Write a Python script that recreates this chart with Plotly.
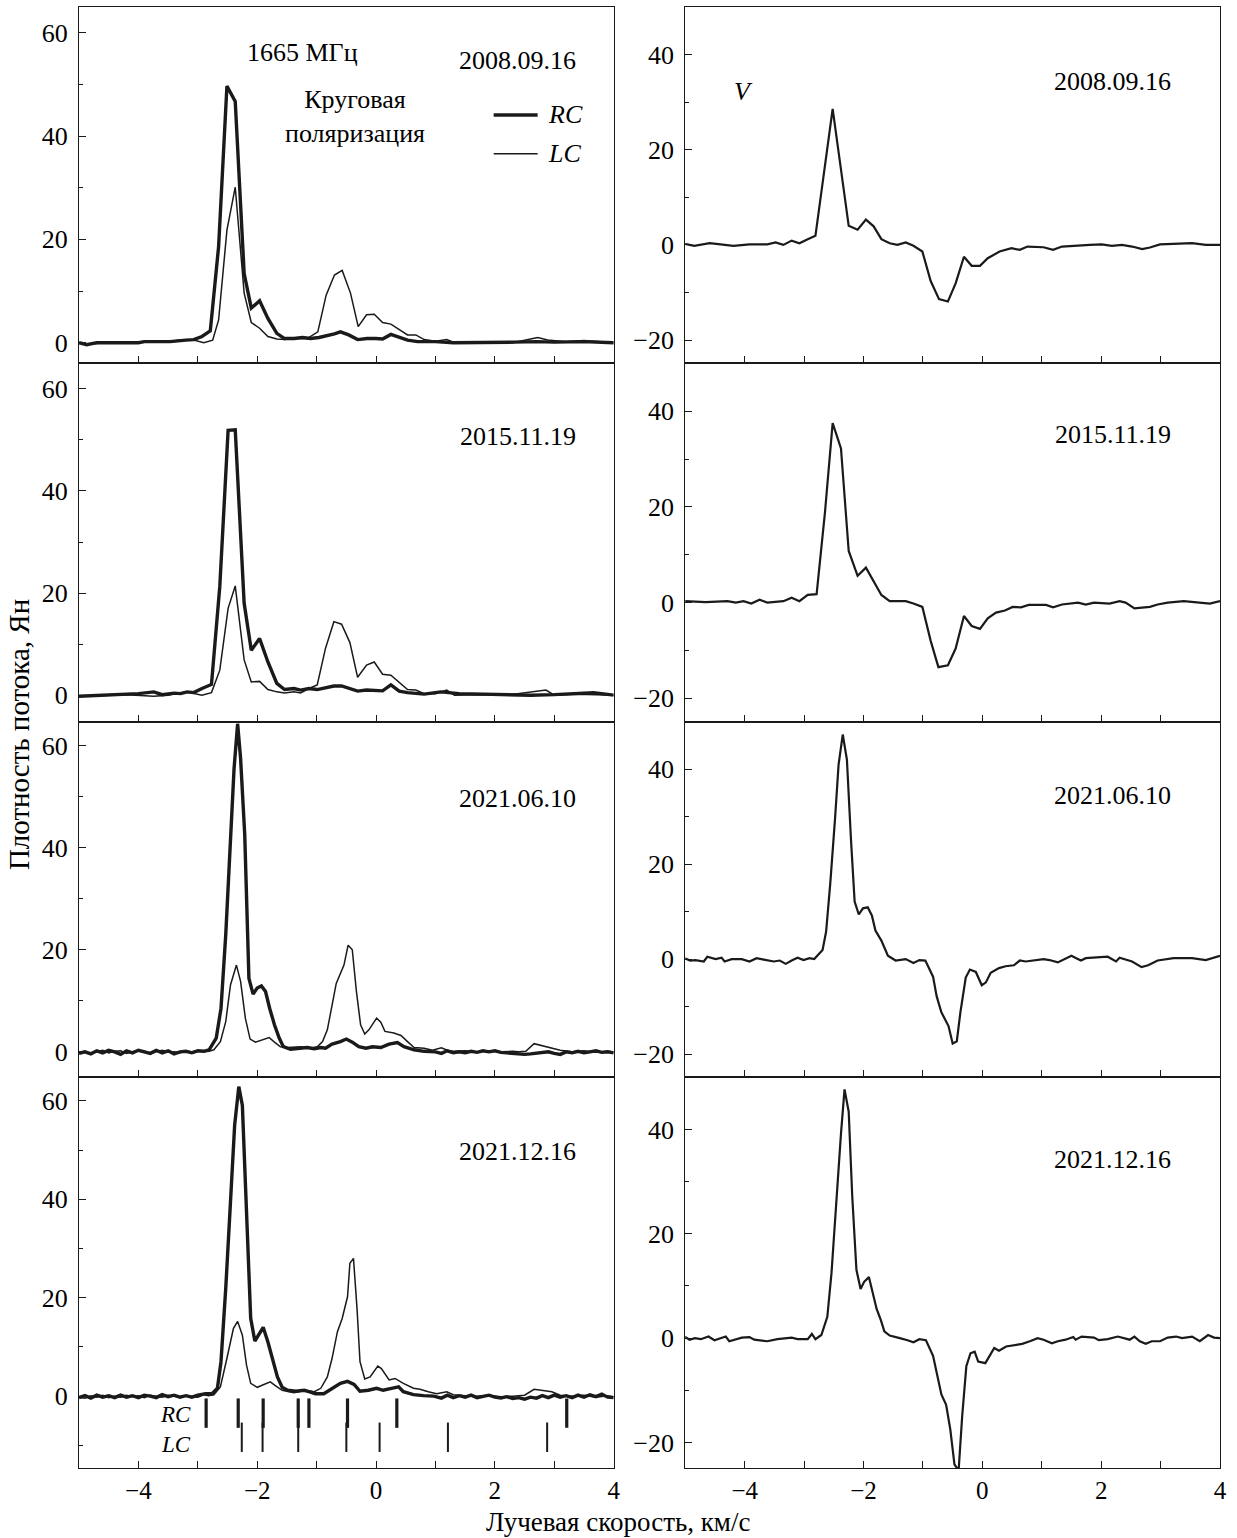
import plotly.graph_objects as go

FONT = "Liberation Serif, Times New Roman, serif"

# ---------------- data (velocity km/s, flux Jy) ----------------
dates = ["2008.09.16", "2015.11.19", "2021.06.10", "2021.12.16"]

rc_2008 = [(-5.0, 0.0), (-4.87, -0.4), (-4.7, 0.0), (-4.4, 0.0), (-4.0, 0.0), (-3.9, 0.2), (-3.6, 0.1), (-3.47, 0.2),
           (-3.2, 0.5), (-3.07, 0.6), (-2.93, 1.2), (-2.79, 2.3), (-2.65, 18.6), (-2.51, 49.7), (-2.37, 46.7),
           (-2.22, 13.4), (-2.10, 6.7), (-1.96, 8.1), (-1.82, 4.7), (-1.67, 1.8), (-1.54, 0.8), (-1.38, 0.8),
           (-1.24, 1.0), (-1.10, 0.8), (-0.96, 1.0), (-0.82, 1.3), (-0.70, 1.7), (-0.60, 2.1), (-0.46, 1.5),
           (-0.31, 0.6), (-0.15, 0.8), (-0.01, 0.8), (0.11, 0.7), (0.25, 1.6), (0.39, 1.0), (0.53, 0.5),
           (0.70, 0.2), (1.0, 0.2), (1.3, 0.0), (1.66, 0.0), (2.0, 0.1), (2.32, 0.1), (2.7, 0.2), (3.0, 0.1),
           (3.5, 0.2), (4.0, 0.0)]
lc_2008 = [(-5.0, 0.0), (-4.87, -0.4), (-4.6, 0.0), (-4.2, 0.1), (-3.8, 0.1), (-3.5, 0.2), (-3.3, 0.5), (-3.07, 0.5),
           (-2.9, 0.0), (-2.75, 0.5), (-2.65, 4.4), (-2.51, 21.8), (-2.37, 30.1), (-2.22, 9.6), (-2.10, 3.9),
           (-1.96, 2.8), (-1.82, 1.2), (-1.67, 0.7), (-1.54, 0.6), (-1.38, 0.8), (-1.16, 0.8), (-0.98, 2.1),
           (-0.84, 9.2), (-0.70, 13.1), (-0.57, 14.0), (-0.43, 9.6), (-0.30, 3.1), (-0.16, 5.4), (-0.03, 5.5),
           (0.11, 3.9), (0.25, 3.6), (0.39, 2.5), (0.53, 1.5), (0.67, 1.5), (0.81, 0.6), (1.0, 0.3), (1.19, 0.6),
           (1.32, 0.0), (1.6, 0.1), (2.0, 0.1), (2.3, 0.0), (2.52, 0.5), (2.72, 1.0), (2.89, 0.5), (3.2, 0.2),
           (3.5, 0.4), (4.0, 0.0)]

rc_2015 = [(-5.0, -0.2), (-4.7, 0.0), (-4.4, 0.1), (-4.0, 0.3), (-3.74, 0.65), (-3.6, 0.1), (-3.4, 0.4), (-3.29, 0.3),
           (-3.18, 0.65), (-3.07, 0.5), (-2.93, 1.3), (-2.77, 2.1), (-2.63, 21.3), (-2.49, 51.9), (-2.37, 52.0),
           (-2.22, 18.0), (-2.10, 8.8), (-1.96, 11.1), (-1.82, 6.5), (-1.67, 2.3), (-1.54, 1.1), (-1.38, 1.3),
           (-1.27, 1.0), (-1.13, 1.3), (-0.99, 1.1), (-0.85, 1.4), (-0.71, 1.8), (-0.58, 1.8), (-0.44, 1.3),
           (-0.31, 0.8), (-0.16, 1.0), (-0.03, 1.0), (0.11, 0.85), (0.25, 2.0), (0.39, 0.8), (0.53, 0.5),
           (0.67, 0.3), (0.81, 0.2), (1.09, 0.65), (1.4, 0.3), (1.8, 0.2), (2.2, 0.1), (2.6, 0.0), (3.0, 0.1),
           (3.39, 0.3), (3.66, 0.5), (4.0, 0.0)]
lc_2015 = [(-5.0, -0.2), (-4.6, 0.0), (-4.2, 0.1), (-3.74, -0.2), (-3.5, 0.0), (-3.2, 0.65), (-2.93, 0.0),
           (-2.77, 0.5), (-2.63, 4.9), (-2.49, 17.0), (-2.37, 21.4), (-2.22, 6.9), (-2.10, 2.6), (-1.96, 2.7),
           (-1.82, 1.1), (-1.67, 0.65), (-1.54, 0.45), (-1.38, 0.65), (-1.27, 0.45), (-1.13, 1.3), (-0.99, 2.0),
           (-0.85, 9.2), (-0.71, 14.4), (-0.58, 13.9), (-0.44, 10.3), (-0.31, 3.5), (-0.16, 5.9), (-0.03, 6.5),
           (0.11, 4.1), (0.25, 3.9), (0.39, 2.4), (0.53, 1.1), (0.67, 1.0), (0.81, 0.3), (1.0, 0.3), (1.19, 1.0),
           (1.32, 0.0), (1.7, 0.1), (2.2, 0.0), (2.59, 0.65), (2.86, 1.0), (3.0, 0.0), (3.4, 0.2), (4.0, 0.0)]

rc_2021a = [(-5.0, -0.3), (-4.9, 0.0), (-4.8, -0.4), (-4.7, 0.2), (-4.6, -0.2), (-4.5, 0.3), (-4.4, 0.0), (-4.3, -0.5),
            (-4.2, 0.2), (-4.1, -0.2), (-4.0, 0.3), (-3.9, 0.0), (-3.8, -0.3), (-3.7, 0.3), (-3.6, -0.2), (-3.5, 0.2),
            (-3.4, -0.4), (-3.3, 0.0), (-3.2, 0.1), (-3.1, -0.2), (-3.0, 0.2), (-2.9, 0.1), (-2.81, 0.4),
            (-2.69, 2.7), (-2.61, 8.5), (-2.53, 22.9), (-2.45, 40.5), (-2.39, 55.5), (-2.33, 64.3), (-2.28, 57.5),
            (-2.21, 42.5), (-2.14, 14.4), (-2.07, 11.3), (-2.0, 12.5), (-1.93, 12.9), (-1.86, 11.8), (-1.79, 8.5),
            (-1.71, 5.3), (-1.63, 2.7), (-1.56, 1.0), (-1.44, 0.5), (-1.30, 0.7), (-1.16, 0.85), (-1.04, 0.6),
            (-0.93, 0.85), (-0.85, 0.7), (-0.74, 1.5), (-0.60, 2.0), (-0.50, 2.5), (-0.40, 1.9), (-0.29, 1.0),
            (-0.17, 0.7), (-0.06, 1.0), (0.08, 0.85), (0.22, 1.5), (0.36, 1.8), (0.47, 1.0), (0.64, 0.4),
            (0.81, 0.1), (1.0, 0.0), (1.1, -0.3), (1.2, 0.2), (1.3, -0.2), (1.4, 0.0), (1.5, -0.2), (1.6, 0.1),
            (1.7, -0.1), (1.8, 0.2), (1.9, 0.0), (2.0, 0.2), (2.1, -0.1), (2.2, -0.2), (2.3, -0.3), (2.4, -0.4),
            (2.5, -0.5), (2.6, -0.4), (2.7, -0.3), (2.8, -0.2), (2.9, 0.0), (3.0, -0.3), (3.1, -0.5), (3.2, 0.0),
            (3.3, -0.2), (3.4, 0.1), (3.5, -0.2), (3.6, 0.0), (3.7, 0.2), (3.8, -0.1), (3.9, 0.0), (4.0, -0.2)]
lc_2021a = [(-5.0, -0.2), (-4.9, 0.1), (-4.8, -0.3), (-4.7, 0.0), (-4.6, 0.3), (-4.5, -0.2), (-4.4, 0.1), (-4.3, 0.2),
            (-4.2, -0.3), (-4.1, 0.0), (-4.0, 0.2), (-3.9, 0.1), (-3.8, -0.4), (-3.7, 0.0), (-3.6, 0.3), (-3.5, -0.1),
            (-3.4, 0.0), (-3.3, -0.2), (-3.2, 0.1), (-3.1, 0.0), (-3.0, 0.2), (-2.9, 0.0), (-2.81, 0.1),
            (-2.73, 0.4), (-2.62, 2.0), (-2.53, 5.9), (-2.45, 13.1), (-2.35, 17.0), (-2.28, 13.8), (-2.20, 6.6),
            (-2.12, 2.5), (-2.03, 1.9), (-1.92, 2.3), (-1.80, 2.8), (-1.72, 2.0), (-1.61, 1.0), (-1.49, 0.85),
            (-1.38, 0.9), (-1.27, 1.0), (-1.18, 0.8), (-1.10, 0.7), (-0.99, 1.0), (-0.90, 2.0), (-0.82, 4.3),
            (-0.74, 9.2), (-0.67, 13.4), (-0.54, 17.0), (-0.47, 20.9), (-0.40, 20.0), (-0.33, 11.8), (-0.26, 5.3),
            (-0.19, 3.5), (-0.12, 4.3), (0.01, 6.6), (0.08, 5.8), (0.15, 4.0), (0.30, 3.7), (0.42, 3.2),
            (0.53, 2.0), (0.64, 0.85), (0.81, 0.7), (0.95, 0.3), (1.1, 0.8), (1.2, 0.3), (1.3, 0.1), (1.5, 0.2),
            (1.7, 0.0), (1.9, 0.2), (2.1, 0.0), (2.3, 0.1), (2.4, 0.0), (2.52, 0.1), (2.66, 1.6), (2.8, 1.2),
            (3.0, 0.65), (3.1, 0.3), (3.3, 0.0), (3.5, 0.2), (3.7, -0.1), (3.9, 0.1), (4.0, -0.1)]

rc_2021b = [(-5.0, -0.3), (-4.9, 0.1), (-4.8, -0.4), (-4.7, 0.2), (-4.6, -0.2), (-4.5, 0.1), (-4.4, -0.3), (-4.3, 0.2),
            (-4.2, -0.2), (-4.1, 0.1), (-4.0, -0.3), (-3.9, 0.2), (-3.8, 0.0), (-3.7, -0.3), (-3.6, 0.3), (-3.5, -0.1),
            (-3.4, 0.2), (-3.3, -0.2), (-3.2, 0.1), (-3.1, -0.2), (-3.0, 0.2), (-2.87, 0.5), (-2.76, 0.5),
            (-2.67, 1.6), (-2.61, 7.0), (-2.53, 21.9), (-2.45, 39.5), (-2.38, 55.1), (-2.31, 62.9), (-2.25, 59.1),
            (-2.20, 43.6), (-2.11, 15.8), (-2.04, 11.2), (-1.97, 12.7), (-1.90, 14.0), (-1.82, 11.0), (-1.75, 7.7),
            (-1.66, 3.9), (-1.58, 1.8), (-1.49, 1.2), (-1.35, 1.0), (-1.21, 1.2), (-1.13, 0.9), (-1.02, 0.5),
            (-0.88, 0.5), (-0.74, 1.6), (-0.60, 2.6), (-0.48, 3.0), (-0.37, 2.4), (-0.27, 1.0), (-0.13, 1.2),
            (0.01, 1.6), (0.12, 1.2), (0.26, 1.6), (0.38, 1.9), (0.46, 0.9), (0.63, 0.3), (0.8, 0.1), (0.97, 0.0),
            (1.1, -0.4), (1.2, 0.2), (1.3, -0.3), (1.4, 0.1), (1.5, -0.2), (1.6, 0.2), (1.7, -0.3), (1.8, 0.0),
            (1.9, 0.2), (2.0, -0.2), (2.1, -0.4), (2.2, -0.1), (2.3, -0.5), (2.4, -0.3), (2.5, -0.6), (2.6, -0.2),
            (2.7, -0.4), (2.8, 0.1), (2.9, -0.3), (3.0, 0.2), (3.1, -0.2), (3.2, 0.1), (3.3, -0.3), (3.4, 0.2),
            (3.5, -0.2), (3.6, 0.3), (3.7, -0.1), (3.8, 0.4), (3.9, -0.2), (4.0, -0.3)]
lc_2021b = [(-5.0, -0.2), (-4.9, -0.4), (-4.8, 0.1), (-4.7, -0.2), (-4.6, 0.2), (-4.5, -0.3), (-4.4, 0.0), (-4.3, -0.2),
            (-4.2, 0.2), (-4.1, -0.1), (-4.0, 0.1), (-3.9, -0.3), (-3.8, 0.2), (-3.7, 0.0), (-3.6, -0.2), (-3.5, 0.2),
            (-3.4, 0.0), (-3.3, -0.2), (-3.2, 0.1), (-3.1, 0.0), (-3.0, -0.2), (-2.9, 0.3), (-2.82, 0.1),
            (-2.73, 0.3), (-2.62, 1.9), (-2.51, 7.7), (-2.40, 13.8), (-2.33, 15.2), (-2.25, 12.4), (-2.18, 6.3),
            (-2.11, 2.6), (-2.0, 1.8), (-1.89, 2.4), (-1.78, 2.9), (-1.69, 2.1), (-1.58, 1.2), (-1.38, 0.7),
            (-1.19, 1.2), (-1.04, 0.9), (-0.93, 1.6), (-0.82, 3.9), (-0.74, 7.7), (-0.65, 13.1), (-0.57, 15.8),
            (-0.48, 20.2), (-0.44, 27.0), (-0.38, 28.0), (-0.32, 17.8), (-0.27, 7.0), (-0.19, 3.5), (-0.10, 3.9),
            (0.03, 6.1), (0.09, 5.6), (0.22, 3.3), (0.32, 3.6), (0.46, 2.6), (0.63, 1.6), (0.74, 1.4), (0.88, 0.9),
            (1.02, 0.5), (1.19, 0.9), (1.3, 0.3), (1.5, 0.1), (1.7, 0.0), (1.9, 0.2), (2.1, -0.1), (2.3, 0.0),
            (2.5, 0.2), (2.66, 1.4), (2.8, 1.1), (2.96, 0.9), (3.1, 0.2), (3.3, 0.0), (3.5, 0.2), (3.7, -0.2),
            (3.9, 0.1), (4.0, -0.1)]

v_2008 = [(-5.01, 0.2), (-4.85, -0.2), (-4.59, 0.35), (-4.19, -0.2), (-3.92, 0.1), (-3.62, 0.1), (-3.48, 0.5),
          (-3.35, 0.0), (-3.21, 0.9), (-3.08, 0.35), (-2.94, 1.2), (-2.81, 1.9), (-2.52, 28.6), (-2.25, 4.0),
          (-2.10, 3.2), (-1.96, 5.3), (-1.83, 3.9), (-1.70, 1.2), (-1.56, 0.35), (-1.43, 0.0), (-1.29, 0.5),
          (-1.16, -0.2), (-1.01, -1.4), (-0.87, -7.6), (-0.73, -11.4), (-0.58, -11.9), (-0.45, -8.1),
          (-0.31, -2.5), (-0.18, -4.4), (-0.04, -4.4), (0.09, -2.8), (0.29, -1.4), (0.49, -0.7), (0.63, -1.05),
          (0.76, -0.35), (1.03, -0.5), (1.19, -1.05), (1.34, -0.35), (1.81, 0.0), (2.01, 0.1), (2.18, -0.2),
          (2.35, 0.0), (2.52, -0.35), (2.69, -0.9), (2.82, -0.55), (2.99, 0.1), (3.53, 0.35), (3.76, 0.0),
          (4.0, 0.0)]
v_2015 = [(-5.01, 0.3), (-4.66, 0.1), (-4.29, 0.3), (-4.15, 0.0), (-4.02, 0.3), (-3.89, -0.2), (-3.75, 0.6),
          (-3.62, 0.0), (-3.35, 0.3), (-3.21, 1.0), (-3.08, 0.3), (-2.94, 1.6), (-2.79, 1.75), (-2.65, 18.8),
          (-2.52, 37.5), (-2.38, 32.2), (-2.25, 10.8), (-2.10, 5.6), (-1.96, 7.3), (-1.83, 4.5), (-1.70, 1.6),
          (-1.56, 0.3), (-1.43, 0.3), (-1.29, 0.3), (-1.16, -0.2), (-1.01, -0.9), (-0.87, -8.0), (-0.74, -13.5),
          (-0.58, -13.1), (-0.45, -9.6), (-0.31, -2.8), (-0.18, -4.9), (-0.04, -5.5), (0.09, -3.3), (0.23, -2.1),
          (0.38, -1.65), (0.51, -0.9), (0.65, -1.0), (0.78, -0.5), (1.07, -0.5), (1.19, -1.0), (1.34, -0.4),
          (1.61, 0.0), (1.74, -0.4), (1.88, 0.0), (2.14, -0.2), (2.31, 0.3), (2.41, 0.0), (2.56, -1.2),
          (2.82, -0.9), (2.95, -0.4), (3.12, 0.0), (3.39, 0.3), (3.83, -0.2), (4.0, 0.3)]
v_2021a = [(-5.01, 0.2), (-4.92, -0.3), (-4.83, -0.2), (-4.69, -0.5), (-4.63, 0.5), (-4.49, 0.0), (-4.39, 0.3),
           (-4.34, -0.5), (-4.22, 0.0), (-4.05, 0.0), (-3.92, -0.5), (-3.80, 0.2), (-3.68, -0.1), (-3.51, -0.5),
           (-3.41, -0.3), (-3.31, -1.0), (-3.21, -0.3), (-3.11, 0.3), (-3.01, -0.2), (-2.91, 0.2), (-2.83, 0.0),
           (-2.69, 1.9), (-2.63, 5.8), (-2.56, 16.0), (-2.48, 29.6), (-2.42, 41.0), (-2.35, 47.3), (-2.28, 42.0),
           (-2.21, 24.8), (-2.15, 12.1), (-2.08, 9.4), (-2.01, 10.7), (-1.93, 10.9), (-1.86, 9.2), (-1.80, 6.0),
           (-1.70, 3.9), (-1.59, 0.7), (-1.46, -0.3), (-1.29, 0.0), (-1.16, -0.8), (-1.06, -0.2), (-0.96, -0.3),
           (-0.83, -3.7), (-0.77, -7.8), (-0.69, -11.2), (-0.57, -14.1), (-0.50, -17.8), (-0.43, -17.3),
           (-0.37, -11.2), (-0.28, -3.9), (-0.21, -2.2), (-0.11, -2.7), (-0.01, -5.5), (0.06, -4.9), (0.14, -2.9),
           (0.28, -1.9), (0.39, -1.5), (0.53, -1.3), (0.63, -0.3), (0.73, -0.5), (1.03, 0.0), (1.13, -0.2),
           (1.27, -0.7), (1.50, 0.7), (1.58, 0.2), (1.66, -0.3), (1.74, 0.2), (1.93, 0.3), (2.11, 0.5),
           (2.25, -0.5), (2.31, 0.3), (2.52, -0.5), (2.68, -1.7), (2.79, -1.3), (2.95, -0.3), (3.22, 0.2),
           (3.53, 0.2), (3.76, -0.2), (4.0, 0.7)]
v_2021b = [(-5.01, 0.3), (-4.93, -0.3), (-4.84, 0.0), (-4.74, -0.2), (-4.61, 0.3), (-4.51, -0.4), (-4.32, 0.3),
           (-4.26, -0.6), (-4.05, 0.1), (-3.92, 0.2), (-3.84, -0.3), (-3.62, -0.6), (-3.45, -0.2), (-3.21, 0.1),
           (-3.11, -0.2), (-2.94, -0.2), (-2.87, 0.8), (-2.81, -0.2), (-2.71, 0.6), (-2.61, 4.1), (-2.54, 12.4),
           (-2.44, 30.3), (-2.38, 39.2), (-2.32, 47.7), (-2.25, 43.4), (-2.19, 27.1), (-2.12, 13.1), (-2.05, 9.4),
           (-1.99, 10.8), (-1.91, 11.7), (-1.85, 8.9), (-1.78, 5.6), (-1.71, 3.5), (-1.65, 1.3), (-1.56, 0.5),
           (-1.48, 0.3), (-1.39, 0.0), (-1.26, -0.4), (-1.16, -0.8), (-1.06, -0.2), (-0.95, -0.4), (-0.83, -3.4),
           (-0.77, -6.7), (-0.69, -10.8), (-0.61, -12.8), (-0.54, -17.5), (-0.47, -24.2), (-0.40, -25.4),
           (-0.34, -15.0), (-0.27, -5.4), (-0.20, -2.9), (-0.13, -2.6), (-0.07, -4.5), (0.05, -4.8), (0.20, -1.9),
           (0.28, -2.4), (0.40, -1.6), (0.53, -1.3), (0.67, -1.1), (0.80, -0.6), (0.93, 0.0), (1.03, -0.3),
           (1.17, -1.0), (1.27, -0.6), (1.40, -0.3), (1.53, 0.2), (1.57, -0.3), (1.67, 0.3), (1.88, 0.1),
           (1.96, -0.4), (2.11, -0.2), (2.28, 0.3), (2.48, -0.3), (2.56, 0.3), (2.65, -0.6), (2.75, -1.1),
           (2.85, -0.6), (2.99, -0.6), (3.12, 0.1), (3.26, 0.3), (3.36, 0.0), (3.53, 0.3), (3.66, -0.6),
           (3.80, 0.6), (3.90, 0.1), (4.0, 0.0)]

# feature velocities marked under the 2021.12.16 spectra
rc_features = [-2.86, -2.32, -1.90, -1.31, -1.13, -0.48, 0.35, 3.21]
lc_features = [-2.26, -1.91, -1.31, -0.50, 0.06, 1.21, 2.88]

left_series = [(rc_2008, lc_2008), (rc_2015, lc_2015), (rc_2021a, lc_2021a), (rc_2021b, lc_2021b)]
right_series = [v_2008, v_2015, v_2021a, v_2021b]

# ---------------- layout geometry ----------------
x_left = [0.0, 0.4686]
x_right = [0.5314, 1.0]
row_dom = [[0.7561, 1.0], [0.5108, 0.7561], [0.2674, 0.5108], [0.0, 0.2674]]
left_ranges = [[-4.0, 65.0], [-5.2, 65.0], [-5.0, 64.7], [-14.6, 64.8]]
right_range = [-24.9, 50.0]

INK = "#1a1a1a"
TXT = dict(family=FONT, size=26, color="black")
SMALL = dict(family=FONT, size=23, color="black")
YTITLEF = dict(family=FONT, size=29, color="black")
XTITLEF = dict(family=FONT, size=27, color="black")
TICKF = dict(family=FONT, size=26, color="black")
XTICKF = dict(family=FONT, size=25, color="black")
fig = go.Figure()


def ax(i):
    return ("" if i == 1 else str(i))


def unzip(pairs):
    return [p[0] for p in pairs], [p[1] for p in pairs]


layout = {}
annotations = []
shapes = []
for r in range(4):
    for c in range(2):
        i = r * 2 + c + 1
        xa, ya = "x" + ax(i), "y" + ax(i)
        if c == 0:
            rc, lc = left_series[r]
            x, y = unzip(lc)
            fig.add_trace(go.Scatter(x=x, y=y, mode="lines", line=dict(color=INK, width=1.5),
                                     xaxis=xa, yaxis=ya, showlegend=False))
            x, y = unzip(rc)
            fig.add_trace(go.Scatter(x=x, y=y, mode="lines", line=dict(color=INK, width=3.4),
                                     xaxis=xa, yaxis=ya, showlegend=False))
        else:
            x, y = unzip(right_series[r])
            fig.add_trace(go.Scatter(x=x, y=y, mode="lines", line=dict(color=INK, width=2.2),
                                     xaxis=xa, yaxis=ya, showlegend=False))
        last = (r == 3)
        layout["xaxis" + ax(i)] = dict(
            domain=x_left if c == 0 else x_right, anchor=ya, range=[-5, 4],
            showline=True, mirror=True, linecolor=INK, linewidth=1.3,
            ticks="inside", ticklen=7, tickwidth=1.3, tickcolor=INK,
            tick0=0, dtick=2,
            minor=dict(dtick=1, tick0=0, ticks="inside", ticklen=7, tickwidth=1.3, tickcolor=INK),
            showgrid=False, zeroline=False, showticklabels=last,
            ticklabelstandoff=0,
            tickfont=XTICKF,
        )
        layout["yaxis" + ax(i)] = dict(
            domain=row_dom[r], anchor=xa,
            range=left_ranges[r] if c == 0 else right_range,
            showline=True, mirror=True, linecolor=INK, linewidth=1.3,
            ticks="inside", ticklen=7, tickwidth=1.3, tickcolor=INK,
            tick0=0, dtick=20,
            minor=dict(dtick=10, tick0=0, ticks="inside", ticklen=4, tickwidth=1.3, tickcolor=INK),
            showgrid=False, zeroline=False,
            ticklabelstandoff=5,
            tickfont=TICKF,
        )
        # date labels
        if c == 0:
            dy = [54.7, 50.6, 49.6, 49.7][r]
            annotations.append(dict(x=3.4, y=dy, xref=xa, yref=ya, text=dates[r], showarrow=False,
                                    xanchor="right", yanchor="middle", font=TXT))
        else:
            dy = [34.4, 35.1, 34.5, 34.3][r]
            annotations.append(dict(x=3.21, y=dy, xref=xa, yref=ya, text=dates[r], showarrow=False,
                                    xanchor="right", yanchor="middle", font=TXT))

# feature tick marks (bottom-left panel)
fig.add_trace(go.Scatter(x=rc_features, y=[-3.45] * len(rc_features), mode="markers",
                         marker=dict(symbol="line-ns", size=21, line=dict(color=INK, width=3.2)),
                         xaxis="x7", yaxis="y7", showlegend=False))
fig.add_trace(go.Scatter(x=lc_features, y=[-8.35] * len(lc_features), mode="markers",
                         marker=dict(symbol="line-ns", size=21, line=dict(color=INK, width=2.0)),
                         xaxis="x7", yaxis="y7", showlegend=False))
annotations.append(dict(x=-3.08, y=-3.7, xref="x7", yref="y7", text="<i>RC</i>", showarrow=False,
                        xanchor="right", yanchor="middle", font=SMALL))
annotations.append(dict(x=-3.08, y=-9.8, xref="x7", yref="y7", text="<i>LC</i>", showarrow=False,
                        xanchor="right", yanchor="middle", font=SMALL))

# top-left texts and legend
annotations.append(dict(x=-1.24, y=56.1, xref="x", yref="y", text="1665 МГц", showarrow=False, font=TXT))
annotations.append(dict(x=-0.35, y=43.8, xref="x", yref="y", text="Круговая<br>поляризация", showarrow=False,
                        font=TXT))
shapes.append(dict(type="line", xref="x", yref="y", x0=1.98, x1=2.72, y0=44.1, y1=44.1,
                   line=dict(color=INK, width=3.4)))
shapes.append(dict(type="line", xref="x", yref="y", x0=1.98, x1=2.72, y0=36.6, y1=36.6,
                   line=dict(color=INK, width=1.5)))
annotations.append(dict(x=2.86, y=44.1, xref="x", yref="y", text="<i>RC</i>", showarrow=False,
                        xanchor="left", yanchor="middle", font=TXT))
annotations.append(dict(x=2.86, y=36.6, xref="x", yref="y", text="<i>LC</i>", showarrow=False,
                        xanchor="left", yanchor="middle", font=TXT))
annotations.append(dict(x=-4.02, y=32.3, xref="x2", yref="y2", text="<i>V</i>", showarrow=False, font=TXT))

# axis titles
annotations.append(dict(x=-0.053, y=0.502, xref="paper", yref="paper", text="Плотность потока, Ян",
                        textangle=-90, showarrow=False, xanchor="center", yanchor="middle", font=YTITLEF))
annotations.append(dict(x=0.472, y=-0.0372, xref="paper", yref="paper", text="Лучевая скорость, км/с",
                        showarrow=False, xanchor="center", yanchor="middle", font=XTITLEF))

fig.update_layout(
    width=1237, height=1538,
    margin=dict(l=79, r=17, t=7, b=70),
    paper_bgcolor="white", plot_bgcolor="white",
    font=dict(family=FONT, size=26, color="black"),
    annotations=annotations, shapes=shapes,
    showlegend=False,
    **layout,
)

fig.write_html("out.html")
